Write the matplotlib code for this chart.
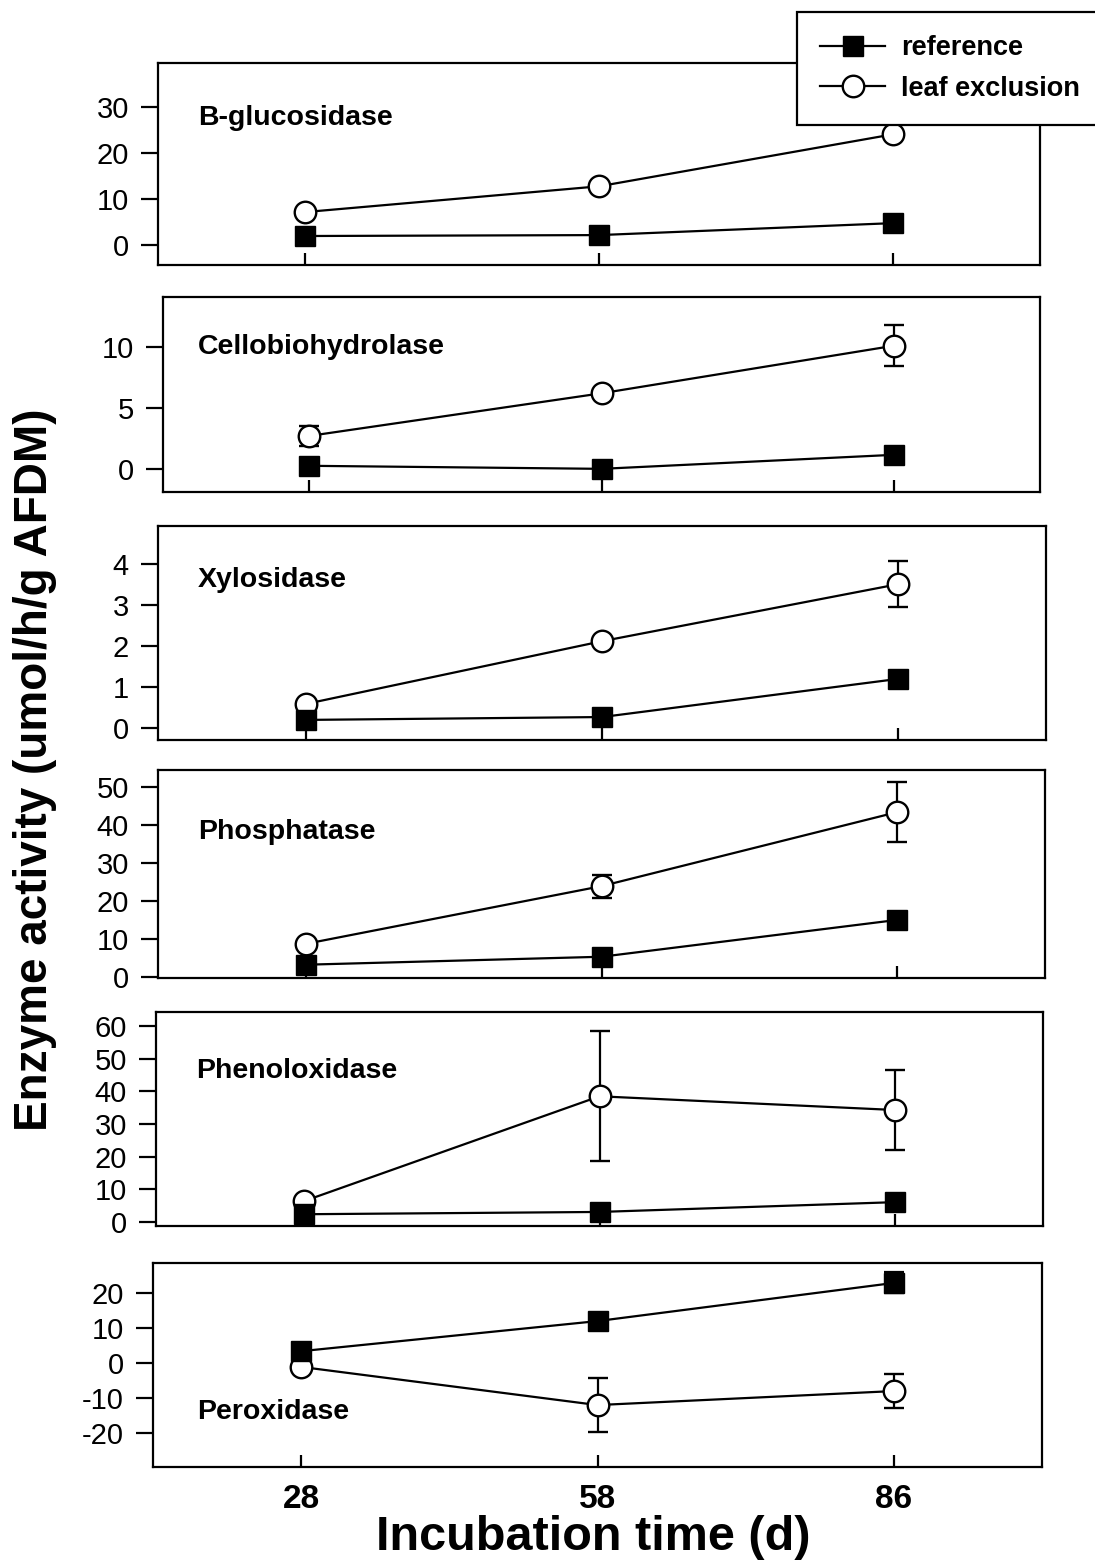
import matplotlib
matplotlib.use("Agg")
import matplotlib.pyplot as plt
from matplotlib.lines import Line2D
import numpy as np

plt.rcParams['font.family'] = ['Liberation Sans', 'DejaVu Sans']
plt.rcParams['axes.unicode_minus'] = False

days = ["28", "58", "86"]
enzymes = ["B-glucosidase", "Cellobiohydrolase", "Xylosidase",
           "Phosphatase", "Phenoloxidase", "Peroxidase"]

bg_ref = [2.0, 2.2, 4.8]
bg_leaf = [7.2, 12.8, 24.1]
bg_leaf_err = [0.0, 0.0, 0.0]

cb_ref = [0.25, 0.0, 1.15]
cb_leaf = [2.7, 6.2, 10.1]
cb_leaf_err = [0.8, 0.0, 1.7]

xy_ref = [0.2, 0.27, 1.2]
xy_leaf = [0.59, 2.12, 3.51]
xy_leaf_err = [0.0, 0.0, 0.56]

ph_ref = [3.2, 5.3, 15.0]
ph_leaf = [8.7, 23.9, 43.4]
ph_leaf_err = [0.0, 3.0, 7.9]

po_ref = [2.4, 3.1, 6.1]
po_leaf = [6.4, 38.5, 34.3]
po_leaf_err = [0.0, 19.9, 12.2]

px_ref = [3.4, 12.0, 22.9]
px_ref_err = [0.0, 0.0, 3.0]
px_leaf = [-1.1, -12.0, -8.0]
px_leaf_err = [0.0, 7.7, 4.9]

yticks = [
    [0, 10, 20, 30],
    [0, 5, 10],
    [0, 1, 2, 3, 4],
    [0, 10, 20, 30, 40, 50],
    [0, 10, 20, 30, 40, 50, 60],
    [-20, -10, 0, 10, 20],
]
ylims = [(-4.3, 39.6), (-1.9, 14.1), (-0.29, 4.93), (-0.3, 54.5), (-1.2, 64.3), (-29.7, 28.6)]

refs = [bg_ref, cb_ref, xy_ref, ph_ref, po_ref, px_ref]
ref_errs = [None, None, None, None, None, px_ref_err]
leafs = [bg_leaf, cb_leaf, xy_leaf, ph_leaf, po_leaf, px_leaf]
leaf_errs = [bg_leaf_err, cb_leaf_err, xy_leaf_err, ph_leaf_err, po_leaf_err, px_leaf_err]

W, H = 1095, 1564
fig = plt.figure(figsize=(W / 100, H / 100), dpi=100)

narrow = ['Liberation Sans Narrow', 'Liberation Sans', 'DejaVu Sans']

# panel boxes in pixels: left, top, right, bottom
boxes = [
    (158, 63, 1040, 265),
    (163, 297, 1040, 492),
    (158, 526, 1046, 740),
    (158, 770, 1045, 978),
    (156, 1012, 1043, 1226),
    (153, 1263, 1042, 1467),
]
label_pos = [(0.045, 0.728), (0.04, 0.744), (0.045, 0.748), (0.045, 0.70), (0.045, 0.724), (0.05, 0.27)]

x = np.arange(len(days))
for i, (l, t, r, b) in enumerate(boxes):
    ax = fig.add_axes([l / W, 1 - b / H, (r - l) / W, (b - t) / H])
    ax.errorbar(x, leafs[i], yerr=leaf_errs[i], color='black', lw=1.6,
                marker='o', ms=15.5, mfc='white', mec='black', mew=1.7,
                capsize=7, capthick=1.6, elinewidth=1.6, zorder=3)
    if ref_errs[i] is not None:
        ax.errorbar(x, refs[i], yerr=ref_errs[i], color='black', lw=1.6,
                    marker='s', ms=14, mfc='black', mec='black',
                    capsize=7, capthick=1.6, elinewidth=1.6, zorder=4)
    else:
        ax.plot(x, refs[i], color='black', lw=1.6, marker='s', ms=14,
                mfc='black', mec='black', zorder=4)
    ax.set_xlim(-0.5, 2.5)
    ax.set_ylim(*ylims[i])
    ax.set_yticks(yticks[i])
    ax.set_xticks(x)
    ax.tick_params(axis='y', direction='out', length=12, width=1.6, labelsize=21, pad=9)
    ax.tick_params(axis='x', direction='in', length=9, width=1.6, labelsize=24, pad=12)
    if i < 5:
        ax.set_xticklabels([])
    else:
        ax.set_xticklabels(days, fontweight='bold', family=narrow)
    for s in ax.spines.values():
        s.set_linewidth(1.6)
    ax.text(label_pos[i][0], label_pos[i][1], enzymes[i], transform=ax.transAxes,
            fontsize=20.5, fontweight='bold', va='center', ha='left')

fig.text(35 / W, 1 - 770 / H, "Enzyme activity (umol/h/g AFDM)", rotation=90,
         fontsize=33, fontweight='bold', ha='center', va='center')
fig.text(593 / W, 1 - 1537 / H, "Incubation time (d)", fontsize=35,
         fontweight='bold', ha='center', va='center', family=narrow)

handles = [
    Line2D([], [], color='black', lw=1.6, marker='s', ms=14, mfc='black', mec='black'),
    Line2D([], [], color='black', lw=1.6, marker='o', ms=15.5, mfc='white', mec='black', mew=1.7),
]
leg = fig.legend(handles, ["reference", "leaf exclusion"], loc='upper left',
                 bbox_to_anchor=(797 / W, 1 - 12 / H), frameon=True, fancybox=False,
                 edgecolor='black', framealpha=1, handlelength=2.4, handletextpad=0.6,
                 borderpad=0.85, labelspacing=0.55, borderaxespad=0,
                 prop={'size': 19.5, 'weight': 'bold'})
leg.get_frame().set_linewidth(1.6)
leg.set_zorder(10)

fig.savefig("out.png", dpi=100)
